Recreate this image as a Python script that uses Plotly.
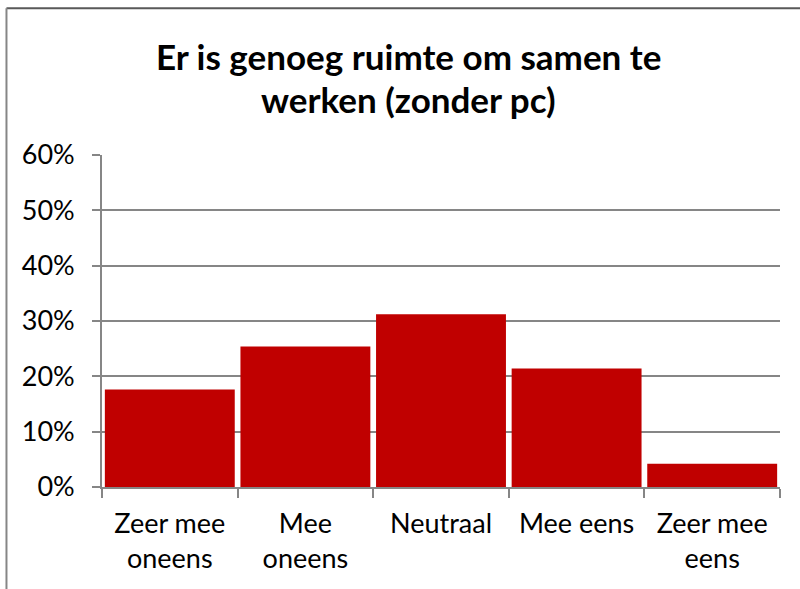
import plotly.graph_objects as go

categories = ["Zeer mee<br>oneens", "Mee<br>oneens", "Neutraal", "Mee eens", "Zeer mee<br>eens"]
values = [0.176, 0.254, 0.312, 0.214, 0.042]
title_lines = ["Er is genoeg ruimte om samen te", "werken (zonder pc)"]

GRID = "#868686"
FONT = "Lato"

fig = go.Figure(go.Bar(x=categories, y=values, marker=dict(color="#C00000", line=dict(width=0))))

fig.update_layout(
    width=800, height=589,
    margin=dict(l=102, r=20, t=155, b=102, pad=0),
    paper_bgcolor="white", plot_bgcolor="white",
    bargap=0.042, showlegend=False,
    font=dict(family=FONT, size=27, color="black"),
)
fig.update_xaxes(
    type="category", tickson="boundaries", ticks="outside", ticklen=9, tickcolor=GRID, tickwidth=1.8,
    showline=True, linecolor=GRID, linewidth=1.8, showgrid=False,
    tickfont=dict(family=FONT, size=27), ticklabelstandoff=12,
)
fig.update_yaxes(
    range=[0, 0.6], dtick=0.1, tickformat=".0%", ticks="outside", ticklen=8, tickcolor=GRID, tickwidth=1.8,
    showline=True, linecolor=GRID, linewidth=1.8, showgrid=True, gridcolor=GRID, gridwidth=1.8,
    zeroline=False, tickfont=dict(family=FONT, size=27), ticklabelstandoff=12,
)

# chart border (top and left edges visible)
fig.add_shape(type="line", xref="paper", yref="paper", x0=-0.1409, x1=1.04, y0=1.4419, y1=1.4419,
              line=dict(color="#595959", width=2))
fig.add_shape(type="line", xref="paper", yref="paper", x0=-0.1409, x1=-0.1409, y0=1.4419, y1=-0.32,
              line=dict(color="#868686", width=2))

for line, yp in zip(title_lines, [1.297, 1.168]):
    fig.add_annotation(text=f"<b>{line}</b>", xref="paper", yref="paper", x=0.452, y=yp,
                       xanchor="center", yanchor="middle", showarrow=False,
                       font=dict(family=FONT, size=35, color="black"))

fig.write_html("out.html", config={"displayModeBar": False},
               post_script="document.body.style.margin='0';")
